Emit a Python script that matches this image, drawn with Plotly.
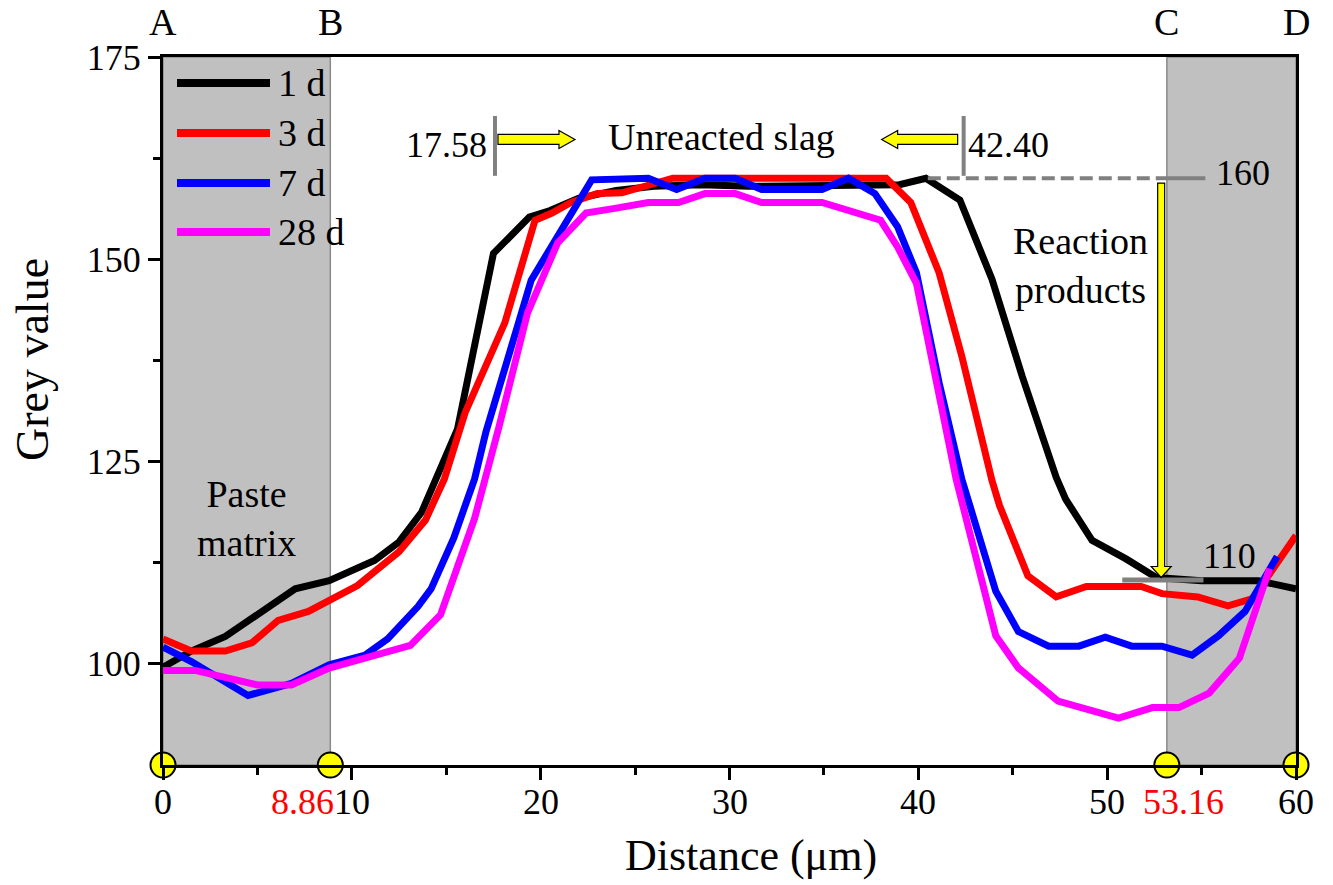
import plotly.graph_objects as go

# ---------------- data ----------------
x_1d = [0, 1.5, 3.3, 5.0, 7.0, 8.8, 11.2, 12.5, 13.7, 15.6, 17.5, 19.4, 20.5, 22.0, 24.0, 26.0, 28.5, 31.0,
        34.0, 37.0, 39.0, 40.4, 42.2, 43.9, 45.5, 47.3, 47.8, 49.2, 51.0, 52.6, 55.0, 58.0, 60.0]
y_1d = [99.5, 101.5, 103.3, 106.0, 109.2, 110.2, 112.7, 115.0, 118.7, 129.0, 150.7, 155.2, 156.0, 157.5, 158.5,
        159.0, 159.2, 159.0, 159.0, 159.0, 159.2, 160.0, 157.3, 147.5, 135.5, 123.0, 120.3, 115.2, 112.9, 110.6,
        110.2, 110.2, 109.2]

x_3d = [0, 1.5, 3.3, 4.7, 6.1, 7.7, 10.3, 12.5, 13.9, 14.9, 16.0, 18.1, 19.7, 20.6, 21.6, 23.0, 24.3, 25.5,
        27.0, 38.3, 39.6, 41.1, 42.3, 43.9, 44.3, 45.8, 47.3, 48.9, 51.8, 52.9, 54.8, 56.4, 57.7, 60.0]
y_3d = [103.0, 101.5, 101.5, 102.5, 105.3, 106.4, 109.6, 113.8, 117.7, 122.8, 131.0, 142.1, 154.8, 155.7, 157.0,
        158.1, 158.2, 159.1, 160.0, 160.0, 157.0, 148.3, 138.0, 122.6, 119.5, 110.8, 108.2, 109.5, 109.5, 108.6,
        108.2, 107.1, 108.0, 115.8]

x_7d = [0, 1.5, 4.5, 6.8, 8.8, 10.7, 11.9, 13.5, 14.2, 15.4, 16.5, 17.1, 19.5, 20.8, 22.7, 25.7, 27.2, 28.7,
        30.3, 31.7, 34.9, 36.3, 37.7, 38.9, 39.9, 41.1, 42.3, 44.1, 45.3, 46.9, 48.5, 49.9, 51.3, 52.9, 54.5,
        55.9, 57.3, 59.0]
y_7d = [102.0, 100.2, 96.0, 97.5, 99.8, 101.0, 103.0, 107.0, 109.2, 115.5, 122.8, 128.6, 147.4, 152.3, 159.8,
        160.0, 158.6, 160.0, 160.0, 158.6, 158.6, 160.0, 158.1, 154.0, 148.3, 134.7, 122.8, 108.9, 103.9, 102.1,
        102.1, 103.2, 102.1, 102.1, 101.0, 103.4, 106.4, 113.2]

x_28d = [0, 1.7, 5.0, 6.8, 8.8, 13.1, 14.7, 15.5, 16.5, 17.8, 19.3, 20.9, 22.4, 24.0, 25.7, 27.3, 28.7, 30.3,
         31.7, 34.9, 38.0, 38.9, 39.9, 42.0, 44.1, 45.3, 47.4, 50.6, 52.4, 53.8, 55.4, 57.0, 58.6]
y_28d = [99.1, 99.1, 97.3, 97.3, 99.4, 102.2, 106.0, 111.3, 117.9, 129.3, 143.3, 152.0, 155.7, 156.3, 157.0,
         157.0, 158.1, 158.1, 157.0, 157.0, 154.8, 151.5, 147.0, 122.8, 103.4, 99.4, 95.3, 93.2, 94.5, 94.5,
         96.3, 100.6, 111.7]

series_names = ["1 d", "3 d", "7 d", "28 d"]
series_colors = ["#000000", "#ff0000", "#0000ff", "#ff00ff"]

boundaries = [0, 8.86, 53.16, 60]
boundary_letters = ["A", "B", "C", "D"]
slag_edges = [17.58, 42.40]
levels = [160, 110]

x_ticks = [0, 10, 20, 30, 40, 50, 60]
y_ticks = [100, 125, 150, 175]

x_range = [0, 60]
y_range = [87.4, 175]

FONT = "Liberation Serif"

# ---------------- figure ----------------
fig = go.Figure()

xs = [x_1d, x_3d, x_7d, x_28d]
ys = [y_1d, y_3d, y_7d, y_28d]
for xv, yv, nm, col in zip(xs, ys, series_names, series_colors):
    fig.add_trace(go.Scatter(x=xv, y=yv, mode="lines", name=nm,
                             line=dict(color=col, width=7), showlegend=False))

# yellow markers at region boundaries on the x axis
fig.add_trace(go.Scatter(x=boundaries, y=[y_range[0]] * len(boundaries), mode="markers",
                         marker=dict(size=25, color="#ffff00", line=dict(color="black", width=2)),
                         cliponaxis=False, showlegend=False, hoverinfo="skip"))

shapes = []
# grey regions (paste matrix)
for a, b in [(boundaries[0], boundaries[1]), (boundaries[2], boundaries[3])]:
    shapes.append(dict(type="rect", xref="x", yref="paper", x0=a, x1=b, y0=0, y1=1,
                       fillcolor="#c0c0c0", line=dict(color="#8a8a8a", width=1.5), layer="below"))

# pixel-to-data helpers for decoration sizes
W_PLOT = 1333 - 163 - 37
H_PLOT = 885 - 57 - 120
DX = (x_range[1] - x_range[0]) / W_PLOT
DY = (y_range[1] - y_range[0]) / H_PLOT

# slag edge bars
y_bar0 = 160.3
y_bar1 = 167.7
for e in slag_edges:
    shapes.append(dict(type="line", xref="x", yref="y", x0=e, x1=e, y0=y_bar0, y1=y_bar1,
                       line=dict(color="#808080", width=4), layer="above"))


def harrow(x_tail, x_tip, yc, hs=5, hh=9, hl=16):
    d = 1 if x_tip > x_tail else -1
    xh = x_tip - d * hl * DX
    pts = [(x_tail, yc - hs * DY), (xh, yc - hs * DY), (xh, yc - hh * DY), (x_tip, yc),
           (xh, yc + hh * DY), (xh, yc + hs * DY), (x_tail, yc + hs * DY)]
    return "M " + " L ".join(f"{px},{py}" for px, py in pts) + " Z"


def varrow(xc, y_tail, y_tip, hs=3.5, hh=10, hl=11):
    yh = y_tip + hl * DY
    pts = [(xc - hs * DX, y_tail), (xc - hs * DX, yh), (xc - hh * DX, yh), (xc, y_tip),
           (xc + hh * DX, yh), (xc + hs * DX, yh), (xc + hs * DX, y_tail)]
    return "M " + " L ".join(f"{px},{py}" for px, py in pts) + " Z"


y_arrow = 164.8
shapes.append(dict(type="path", xref="x", yref="y",
                   path=harrow(slag_edges[0] + 3 * DX, slag_edges[0] + 80 * DX, y_arrow),
                   fillcolor="#ffff00", line=dict(color="black", width=1.2), layer="above"))
shapes.append(dict(type="path", xref="x", yref="y",
                   path=harrow(slag_edges[1] - 6 * DX, slag_edges[1] - 82 * DX, y_arrow),
                   fillcolor="#ffff00", line=dict(color="black", width=1.2), layer="above"))

# level lines
shapes.append(dict(type="line", xref="x", yref="y", x0=40.5, x1=boundaries[2], y0=levels[0], y1=levels[0],
                   line=dict(color="#808080", width=4, dash="13px,6px"), layer="above"))
shapes.append(dict(type="line", xref="x", yref="y", x0=boundaries[2], x1=55.2, y0=levels[0], y1=levels[0],
                   line=dict(color="#808080", width=4), layer="above"))
shapes.append(dict(type="line", xref="x", yref="y", x0=50.8, x1=55.1, y0=levels[1] + 0.3, y1=levels[1] + 0.3,
                   line=dict(color="#808080", width=5), layer="above"))

# vertical yellow arrow (reaction products)
shapes.append(dict(type="path", xref="x", yref="y",
                   path=varrow(boundaries[2] - 0.3, levels[0] - 0.6, levels[1] + 0.6),
                   fillcolor="#ffff00", line=dict(color="black", width=1.2), layer="above"))

# manual legend
leg_y_px = [83, 133, 183, 232]
for nm, col, py in zip(series_names, series_colors, leg_y_px):
    yp = (765 - py) / H_PLOT
    shapes.append(dict(type="line", xref="paper", yref="paper", x0=(177 - 163) / W_PLOT,
                       x1=(270 - 163) / W_PLOT, y0=yp, y1=yp, line=dict(color=col, width=8), layer="above"))

annotations = []
for nm, py in zip(series_names, leg_y_px):
    annotations.append(dict(xref="paper", yref="paper", x=(276 - 163) / W_PLOT, y=(765 - py) / H_PLOT,
                            text=nm, showarrow=False, xanchor="left", yanchor="middle",
                            font=dict(family=FONT, size=38, color="black")))

# letters above the plot
for b, L in zip(boundaries, boundary_letters):
    annotations.append(dict(xref="x", yref="paper", x=b, y=1 + (57 - 22) / H_PLOT, text=L, showarrow=False,
                            xanchor="center", yanchor="middle",
                            font=dict(family=FONT, size=38, color="black")))

# red boundary labels on the x axis
y_lab = -(802 - 765) / H_PLOT
annotations.append(dict(xref="x", yref="paper", x=boundaries[1], y=y_lab, text="8.86",
                        showarrow=False, xanchor="right", yanchor="middle", xshift=6,
                        font=dict(family=FONT, size=36, color="#ff0000")))
annotations.append(dict(xref="x", yref="paper", x=boundaries[2], y=y_lab, text="53.16",
                        showarrow=False, xanchor="left", yanchor="middle", xshift=-26,
                        font=dict(family=FONT, size=36, color="#ff0000")))

# text annotations
annotations.append(dict(xref="x", yref="y", x=29.6, y=165.1, text="Unreacted slag", showarrow=False,
                        font=dict(family=FONT, size=38, color="black")))
annotations.append(dict(xref="x", yref="y", x=slag_edges[0], y=164.1, text=f"{slag_edges[0]:.2f}",
                        showarrow=False, xanchor="right", xshift=-6,
                        font=dict(family=FONT, size=36, color="black")))
annotations.append(dict(xref="x", yref="y", x=slag_edges[1], y=164.1, text=f"{slag_edges[1]:.2f}",
                        showarrow=False, xanchor="left", xshift=2,
                        font=dict(family=FONT, size=36, color="black")))
annotations.append(dict(xref="x", yref="y", x=57.2, y=levels[0] + 0.7, text=str(levels[0]), showarrow=False,
                        font=dict(family=FONT, size=36, color="black")))
annotations.append(dict(xref="x", yref="y", x=56.5, y=levels[1] + 3.3, text=str(levels[1]), showarrow=False,
                        font=dict(family=FONT, size=36, color="black")))
annotations.append(dict(xref="x", yref="y", x=48.6, y=149.2, text="Reaction<br>products", showarrow=False,
                        font=dict(family=FONT, size=38, color="black")))
annotations.append(dict(xref="x", yref="y", x=(boundaries[0] + boundaries[1]) / 2, y=117.9,
                        text="Paste<br>matrix", showarrow=False,
                        font=dict(family=FONT, size=38, color="black")))

# x tick labels (black) placed as text just under the ticks
for t in x_ticks:
    annotations.append(dict(xref="x", yref="paper", x=t, y=y_lab, text=str(t), showarrow=False,
                            xanchor="center", yanchor="middle",
                            font=dict(family=FONT, size=36, color="black")))

# axis titles
annotations.append(dict(xref="paper", yref="paper", x=(751 - 163) / W_PLOT, y=-(855 - 765) / H_PLOT,
                        text="Distance (μm)", showarrow=False, xanchor="center", yanchor="middle",
                        font=dict(family=FONT, size=44, color="black")))
annotations.append(dict(xref="paper", yref="paper", x=(32 - 163) / W_PLOT, y=(765 - 360) / H_PLOT,
                        text="Grey value", showarrow=False, xanchor="center", yanchor="middle", textangle=-90,
                        font=dict(family=FONT, size=46, color="black")))

fig.update_layout(
    width=1333, height=885,
    margin=dict(l=163, r=37, t=57, b=120),
    paper_bgcolor="white", plot_bgcolor="white",
    showlegend=False,
    shapes=shapes, annotations=annotations,
    font=dict(family=FONT, size=36, color="black"),
)
fig.update_xaxes(range=x_range, showgrid=False, zeroline=False, showline=True, linewidth=3, linecolor="black",
                 mirror=True, ticks="outside", ticklen=12, tickwidth=3, tickcolor="black",
                 tickvals=x_ticks, showticklabels=False,
                 minor=dict(tickvals=[5, 15, 25, 35, 45, 55], ticks="outside", ticklen=7, tickwidth=3,
                            tickcolor="black"))
fig.update_yaxes(range=y_range, showgrid=False, zeroline=False, showline=True, linewidth=3, linecolor="black",
                 mirror=True, ticks="outside", ticklen=12, tickwidth=3, tickcolor="black",
                 tickvals=y_ticks, tickfont=dict(family=FONT, size=36, color="black"),
                 minor=dict(tickvals=[112.5, 137.5, 162.5], ticks="outside", ticklen=7, tickwidth=3,
                            tickcolor="black"))

fig.write_html("out.html")
